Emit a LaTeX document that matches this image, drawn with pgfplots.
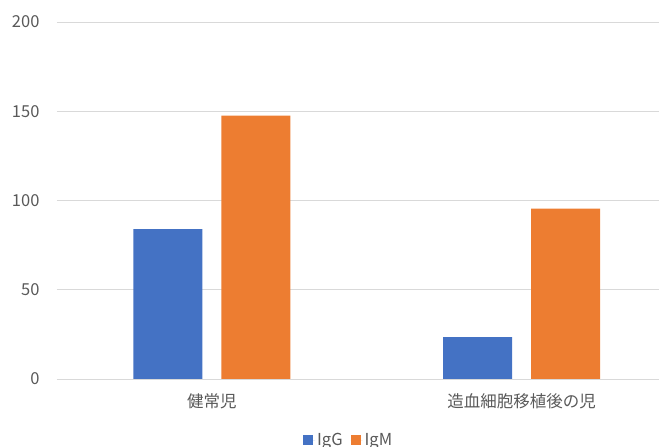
\documentclass[border=0pt]{standalone}
\usepackage{fontspec}
\setmainfont{Noto Sans CJK JP}
\usepackage{pgfplots}
\pgfplotsset{compat=1.18}
\definecolor{cIgG}{HTML}{4472C4}
\definecolor{cIgM}{HTML}{ED7D31}
\definecolor{txt}{HTML}{595959}
\definecolor{grd}{HTML}{D9D9D9}
\begin{document}
\begin{tikzpicture}
\useasboundingbox (-57pt,-68pt) rectangle (602pt,379pt);
\begin{axis}[
  at={(0,0)}, anchor=south west,
  scale only axis, width=602pt, height=357pt,
  ybar, bar width=69pt,
  xmin=-0.5, xmax=1.444, ymin=0, ymax=200,
  xtick={0,1}, xticklabels={健常児,造血細胞移植後の児},
  ytick={0,50,100,150,200},
  axis line style={draw=none},
  major tick length=0pt,
  ymajorgrids, grid style={grd, line width=0.8pt},
  /pgf/number format/assume math mode=true,
  tick label style={txt, font=\fontsize{16.5}{19}\selectfont},
  yticklabel style={xshift=-14pt},
  xticklabel style={yshift=-11pt},
  legend style={at={(axis description cs:0.4845,0)}, anchor=center, yshift=-61pt,
    draw=none, legend columns=2, font=\fontsize{16.5}{19}\selectfont, text=txt,
    inner xsep=0pt,
    /tikz/every even column/.append style={column sep=6pt}},
  legend image code/.code={\fill[#1] (0pt,-5pt) rectangle (10pt,5pt); \path (0pt,0pt) -- (12pt,0pt);},
  clip=false,
]
\addplot[fill=cIgG, draw=none, bar shift=-44pt] coordinates {(0,84) (1,23.5)};
\addplot[fill=cIgM, draw=none, bar shift=44pt] coordinates {(0,147.5) (1,95.5)};
\legend{IgG,IgM}
\end{axis}
\end{tikzpicture}
\end{document}
